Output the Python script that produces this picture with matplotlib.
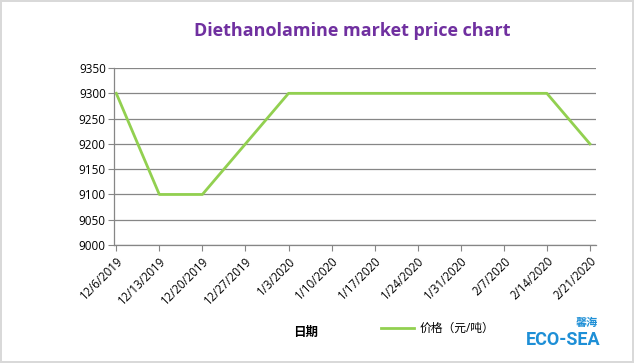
import matplotlib.pyplot as plt

plt.rcParams['font.family'] = ['Open Sans', 'Noto Sans CJK SC', 'DejaVu Sans']

dates = ['12/6/2019', '12/13/2019', '12/20/2019', '12/27/2019', '1/3/2020',
         '1/10/2020', '1/17/2020', '1/24/2020', '1/31/2020', '2/7/2020',
         '2/14/2020', '2/21/2020']
prices = [9300, 9100, 9100, 9200, 9300, 9300, 9300, 9300, 9300, 9300, 9300, 9200]
y_ticks = [9000, 9050, 9100, 9150, 9200, 9250, 9300, 9350]

fig = plt.figure(figsize=(6.34, 3.63), dpi=100)
fig.patch.set_edgecolor('#d9d9d9')
fig.patch.set_linewidth(1.5)
ax = fig.add_axes([0.18, 0.325, 0.76, 0.4875])

x = list(range(len(dates)))
ax.plot(x, prices, color='#92D050', linewidth=2.0, label='价格（元/吨）')

ax.set_xlim(-0.05, len(dates) - 1 + 0.14)
ax.set_ylim(9000, 9350)
ax.set_yticks(y_ticks)
ax.set_xticks(x)
ax.set_xticklabels(dates, rotation=45, ha='right', rotation_mode='anchor', fontsize=8.3)
ax.tick_params(axis='y', labelsize=8.5, length=4, color='#868686', pad=2)
ax.tick_params(axis='x', length=4, color='#868686', pad=3)
ax.grid(axis='y', color='#868686', linewidth=0.9)
ax.set_axisbelow(True)
for s in ['top', 'right']:
    ax.spines[s].set_visible(False)
for s in ['left', 'bottom']:
    ax.spines[s].set_color('#868686')
    ax.spines[s].set_linewidth(0.9)

fig.text(0.555, 0.915, 'Diethanolamine market price chart', ha='center', va='center',
         fontsize=13, fontweight='bold', color='#7030A0')
fig.text(0.482, 0.083, '日期', ha='center', va='center', fontsize=9, fontweight='bold')
fig.legend(loc='center', bbox_to_anchor=(0.69, 0.095), frameon=False, fontsize=8.5,
           handlelength=2.8, handletextpad=0.5)

# logo
fig.text(0.888, 0.063, 'ECO-SEA', ha='center', va='center', fontsize=13,
         fontweight='bold', color='#1E8FD6', family=['Roboto', 'DejaVu Sans'])
fig.text(0.925, 0.11, '馨海', ha='center', va='center', fontsize=8,
         fontweight='bold', color='#1E8FD6')

fig.savefig('out.png', dpi=100, edgecolor=fig.get_edgecolor())
